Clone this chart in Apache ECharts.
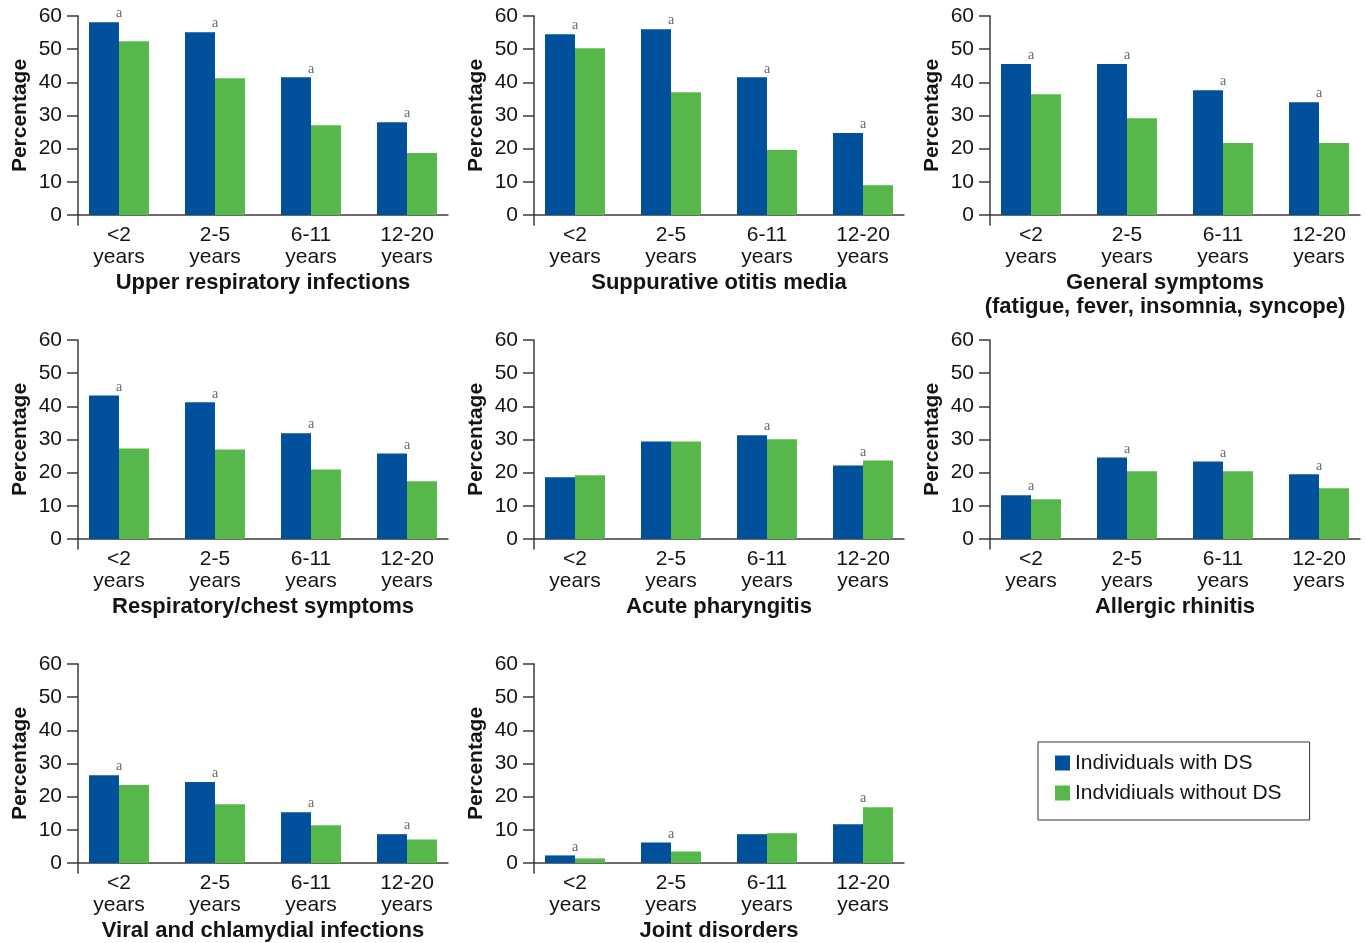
<!DOCTYPE html>
<html>
<head>
<meta charset="utf-8">
<script src="https://cdn.jsdelivr.net/npm/echarts@6/dist/echarts.min.js"></script>
<style>
  html, body { margin: 0; padding: 0; background: #ffffff; }
  #chart { width: 1366px; height: 943px; }
</style>
</head>
<body>
<div id="chart"></div>
<script>
// Age groups shown on every panel's category axis
const ageGroups = ['<2', '2-5', '6-11', '12-20'];
const seriesNames = ['Individuals with DS', 'Indvidiuals without DS'];
const yTickValues = [0, 10, 20, 30, 40, 50, 60];

// Percentages per age group; "sig" marks groups flagged with "a"
const upperRespTitle = 'Upper respiratory infections';
const upperRespWithDS = [58.1, 55.1, 41.5, 28.0];
const upperRespWithoutDS = [52.4, 41.2, 27.1, 18.7];
const upperRespSig = [1, 1, 1, 1];

const otitisTitle = 'Suppurative otitis media';
const otitisWithDS = [54.5, 56.0, 41.5, 24.7];
const otitisWithoutDS = [50.3, 37.0, 19.6, 9.0];
const otitisSig = [1, 1, 1, 1];

const generalTitle = 'General symptoms\n(fatigue, fever, insomnia, syncope)';
const generalWithDS = [45.5, 45.5, 37.6, 34.0];
const generalWithoutDS = [36.4, 29.2, 21.7, 21.7];
const generalSig = [1, 1, 1, 1];

const respChestTitle = 'Respiratory/chest symptoms';
const respChestWithDS = [43.3, 41.2, 31.9, 25.8];
const respChestWithoutDS = [27.3, 27.0, 21.0, 17.4];
const respChestSig = [1, 1, 1, 1];

const pharyngitisTitle = 'Acute pharyngitis';
const pharyngitisWithDS = [18.6, 29.4, 31.3, 22.2];
const pharyngitisWithoutDS = [19.2, 29.4, 30.1, 23.7];
const pharyngitisSig = [0, 0, 1, 1];

const rhinitisTitle = 'Allergic rhinitis';
const rhinitisWithDS = [13.2, 24.6, 23.4, 19.5];
const rhinitisWithoutDS = [12.0, 20.4, 20.4, 15.3];
const rhinitisSig = [1, 1, 1, 1];

const viralTitle = 'Viral and chlamydial infections';
const viralWithDS = [26.5, 24.4, 15.3, 8.7];
const viralWithoutDS = [23.5, 17.7, 11.4, 7.1];
const viralSig = [1, 1, 1, 1];

const jointTitle = 'Joint disorders';
const jointWithDS = [2.3, 6.2, 8.7, 11.7];
const jointWithoutDS = [1.4, 3.5, 9.0, 16.8];
const jointSig = [1, 1, 0, 1];

const panels = [
  { title: upperRespTitle, ds: upperRespWithDS, nonDs: upperRespWithoutDS, sig: upperRespSig },
  { title: otitisTitle, ds: otitisWithDS, nonDs: otitisWithoutDS, sig: otitisSig },
  { title: generalTitle, ds: generalWithDS, nonDs: generalWithoutDS, sig: generalSig },
  { title: respChestTitle, ds: respChestWithDS, nonDs: respChestWithoutDS, sig: respChestSig },
  { title: pharyngitisTitle, ds: pharyngitisWithDS, nonDs: pharyngitisWithoutDS, sig: pharyngitisSig },
  { title: rhinitisTitle, ds: rhinitisWithDS, nonDs: rhinitisWithoutDS, sig: rhinitisSig },
  { title: viralTitle, ds: viralWithDS, nonDs: viralWithoutDS, sig: viralSig },
  { title: jointTitle, ds: jointWithDS, nonDs: jointWithoutDS, sig: jointSig }
];

// Layout of the 3x3 panel grid
const COL_X = [78, 534, 990];
const ROW_Y = [16, 340, 664];
const PLOT_W = 370;
const PLOT_H = 209;
const Y_MIN = -3, Y_MAX = 60;
const X_MIN = -0.427, X_MAX = 3.427;

const BLUE = '#00509c';
const GREEN = '#56b84b';
const INK = '#141414';
const AXIS = '#3a3a3a';
const SANS = '"Liberation Sans", Arial, Helvetica, sans-serif';

const grids = [], xAxes = [], yAxes = [], series = [];

panels.forEach((p, i) => {
  const row = Math.floor(i / 3), col = i % 3;
  grids.push({
    left: COL_X[col], top: ROW_Y[row], width: PLOT_W, height: PLOT_H,
    containLabel: false, outerBoundsMode: 'none'
  });

  const twoLine = p.title.indexOf('\n') >= 0;
  xAxes.push({
    gridIndex: i,
    type: 'value',
    min: X_MIN,
    max: X_MAX,
    name: p.title,
    nameLocation: 'middle',
    nameGap: 46,
    nameTextStyle: {
      fontFamily: SANS, fontSize: 22, fontWeight: 'bold', color: INK, lineHeight: 24,
      padding: twoLine ? [0, 20, 0, 0] : 0
    },
    axisLine: { show: true, onZero: true, lineStyle: { color: AXIS, width: 1.5 } },
    axisTick: { show: false },
    splitLine: { show: false },
    axisLabel: {
      customValues: ageGroups.map((_, k) => k),
      formatter: v => ageGroups[Math.round(v)] + '\nyears',
      fontFamily: SANS, fontSize: 21, lineHeight: 22, color: INK, margin: -1
    }
  });

  yAxes.push({
    gridIndex: i,
    type: 'value',
    min: Y_MIN,
    max: Y_MAX,
    name: 'Percentage',
    nameLocation: 'middle',
    nameGap: 47,
    nameRotate: 90,
    nameTextStyle: { fontFamily: SANS, fontSize: 21, fontWeight: 'bold', color: INK, padding: [0, 0, 0, 10] },
    axisLine: { show: true, onZero: false, lineStyle: { color: AXIS, width: 1.5 } },
    axisTick: { show: true, customValues: yTickValues, length: 11, lineStyle: { color: AXIS, width: 1.5 } },
    axisLabel: { customValues: yTickValues, fontFamily: SANS, fontSize: 21, color: INK, margin: 16 },
    splitLine: { show: false }
  });

  series.push({
    type: 'bar', name: seriesNames[0], xAxisIndex: i, yAxisIndex: i,
    data: p.ds.map((v, k) => [k, v]),
    barWidth: 30, barGap: '0%',
    itemStyle: { color: BLUE }, silent: true
  });
  series.push({
    type: 'bar', name: seriesNames[1], xAxisIndex: i, yAxisIndex: i,
    data: p.nonDs.map((v, k) => [k, v]),
    barWidth: 30, barGap: '0%',
    itemStyle: { color: GREEN }, silent: true
  });

  // "a" markers over flagged age groups, above the taller bar
  const marks = [];
  p.sig.forEach((s, k) => { if (s) marks.push([k, Math.max(p.ds[k], p.nonDs[k])]); });
  series.push({
    type: 'scatter', name: 'sig-' + i, xAxisIndex: i, yAxisIndex: i,
    data: marks,
    symbolSize: 1,
    itemStyle: { color: 'rgba(0,0,0,0)' },
    label: {
      show: true, position: 'top', distance: 1, formatter: 'a',
      fontFamily: '"Liberation Serif", "Times New Roman", serif', fontSize: 14, color: '#444'
    },
    silent: true, z: 5
  });
});

const chart = echarts.init(document.getElementById('chart'));
chart.setOption({
  animation: false,
  backgroundColor: '#ffffff',
  grid: grids,
  xAxis: xAxes,
  yAxis: yAxes,
  legend: {
    data: seriesNames,
    orient: 'vertical',
    left: 1038,
    top: 742,
    icon: 'rect',
    itemWidth: 15,
    itemHeight: 15,
    itemGap: 8,
    padding: [10, 28, 16, 17],
    borderColor: '#333',
    borderWidth: 1,
    selectedMode: false,
    textStyle: { fontFamily: SANS, fontSize: 21, lineHeight: 22, color: INK }
  },
  series: series
});
</script>
</body>
</html>
